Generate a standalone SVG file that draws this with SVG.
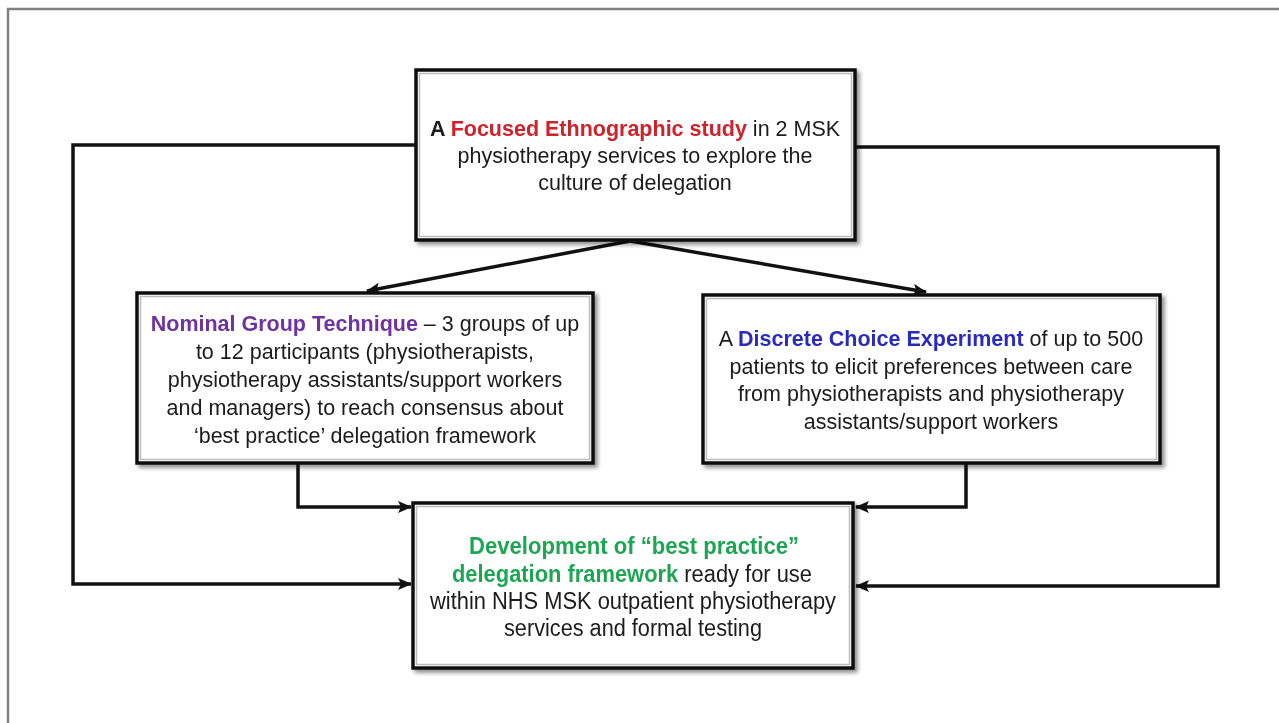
<svg xmlns="http://www.w3.org/2000/svg" width="1279" height="723" viewBox="0 0 1279 723">
<defs>
<marker id="ah" markerWidth="14" markerHeight="12" refX="13" refY="6" orient="auto" markerUnits="userSpaceOnUse">
<path d="M0,0 L14,6 L0,12 L3,6 Z" fill="#111"/>
</marker>
<filter id="sh" x="-5%" y="-5%" width="115%" height="120%">
<feGaussianBlur in="SourceAlpha" stdDeviation="2"/>
<feOffset dx="3" dy="3" result="o"/>
<feComponentTransfer><feFuncA type="linear" slope="0.45"/></feComponentTransfer>
<feMerge><feMergeNode/><feMergeNode in="SourceGraphic"/></feMerge>
</filter>
</defs>
<style>
.box{fill:#fff;stroke:#111;stroke-width:3.5}
.inner{fill:none;stroke:#bbb;stroke-width:1.5}
.t{font-family:"Liberation Sans",Arial,sans-serif;font-size:21.5px;fill:#1a1a1a;text-anchor:middle}
.n{font-size:23px}
.b{font-weight:bold}
.red{fill:#d0202a}
.pur{fill:#7030a0}
.blu{fill:#2b2bbf}
.grn{fill:#1ea653}
.c{fill:none;stroke:#111;stroke-width:3.5}
</style>
<rect x="0" y="0" width="1279" height="723" fill="#fff"/>
<path d="M8,723 V9 H1279" fill="none" stroke="#808080" stroke-width="2.5"/>

<g id="connectors">
<path class="c" d="M416,145 H73 V584 H411" marker-end="url(#ah)"/>
<path class="c" d="M855,147 H1218 V586 H856" marker-end="url(#ah)"/>
<path class="c" d="M298,463 V507 H411" marker-end="url(#ah)"/>
<path class="c" d="M966,463 V507 H856" marker-end="url(#ah)"/>
<path class="c" d="M630,241 L367,291" marker-end="url(#ah)"/>
<path class="c" d="M630,241 L926,292" marker-end="url(#ah)"/>
</g>

<g id="node-ethno" filter="url(#sh)">
<rect class="box" x="416" y="70" width="439" height="170"/>
<rect class="inner" x="419.5" y="73.5" width="432" height="163"/>
<text class="t" x="635" y="136"><tspan class="b">A </tspan><tspan class="b red">Focused Ethnographic study</tspan> in 2 MSK</text>
<text class="t" x="635" y="163">physiotherapy services to explore the</text>
<text class="t" x="635" y="190">culture of delegation</text>
</g>

<g id="node-ngt" filter="url(#sh)">
<rect class="box" x="137" y="293" width="456" height="170"/>
<rect class="inner" x="140.5" y="296.5" width="449" height="163"/>
<text class="t" x="365" y="331"><tspan class="b pur">Nominal Group Technique</tspan> – 3 groups of up</text>
<text class="t" x="365" y="359">to 12 participants (physiotherapists,</text>
<text class="t" x="365" y="387">physiotherapy assistants/support workers</text>
<text class="t" x="365" y="415">and managers) to reach consensus about</text>
<text class="t" x="365" y="443">‘best practice’ delegation framework</text>
</g>

<g id="node-dce" filter="url(#sh)">
<rect class="box" x="703" y="295" width="457" height="168"/>
<rect class="inner" x="706.5" y="298.5" width="450" height="161"/>
<text class="t" x="931" y="346">A <tspan class="b blu">Discrete Choice Experiment</tspan> of up to 500</text>
<text class="t" x="931" y="374">patients to elicit preferences between care</text>
<text class="t" x="931" y="401">from physiotherapists and physiotherapy</text>
<text class="t" x="931" y="429">assistants/support workers</text>
</g>

<g id="node-dev" filter="url(#sh)">
<rect class="box" x="413" y="503" width="440" height="165"/>
<rect class="inner" x="416.5" y="506.5" width="433" height="158"/>
<text class="t n" x="634" y="554" textLength="330" lengthAdjust="spacingAndGlyphs"><tspan class="b grn">Development of “best practice”</tspan></text>
<text class="t n" x="632" y="582" textLength="360" lengthAdjust="spacingAndGlyphs"><tspan class="b grn">delegation framework</tspan> ready for use</text>
<text class="t n" x="633" y="609" textLength="406" lengthAdjust="spacingAndGlyphs">within NHS MSK outpatient physiotherapy</text>
<text class="t n" x="633" y="636" textLength="258" lengthAdjust="spacingAndGlyphs">services and formal testing</text>
</g>
</svg>
